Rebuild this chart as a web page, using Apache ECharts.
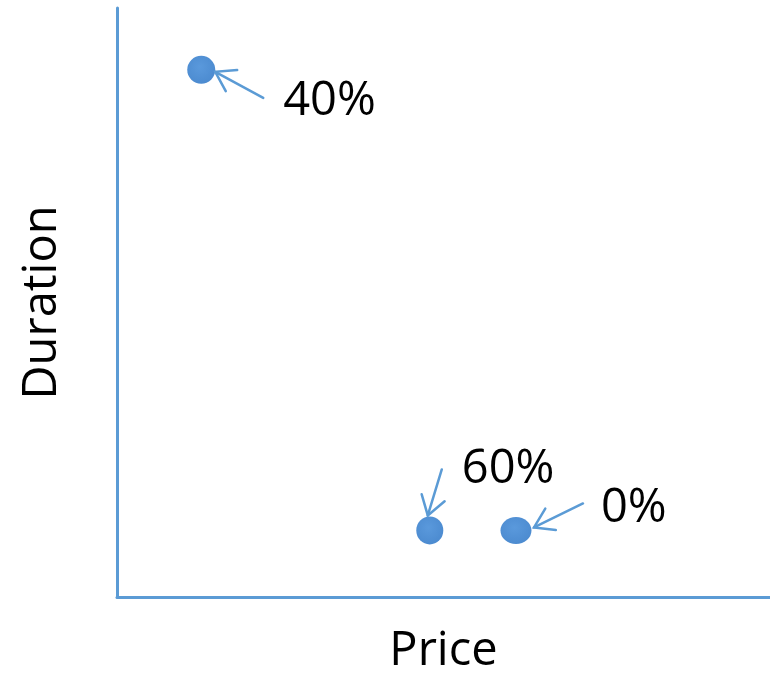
<!DOCTYPE html>
<html>
<head>
<meta charset="utf-8">
<script src="https://cdn.jsdelivr.net/npm/echarts@6/dist/echarts.min.js"></script>
<style>html,body{margin:0;padding:0;background:#fff}#c{width:770px;height:677px}</style>
</head>
<body>
<div id="c"></div>
<script>
// Data (arbitrary units; axes carry no ticks)
const labels = ['40%', '60%', '0%'];
const priceValues = [12.9, 47.9, 61.1];
const durationValues = [89.5, 11.3, 11.3];
const axisNames = { x: 'Price', y: 'Duration' };

// Styles (pixel offsets of annotation relative to each point)
const markerSizes = [[28, 28], [27, 28], [31, 27]];
const arrowStyle = [
  { tail: [62, 28], tip: [14, 2], text: [82, 32] },
  { tail: [12, -61], tip: [-2, -15], text: [32, -61] },
  { tail: [67, -27], tip: [18, -3], text: [85, -22] }
];
const blue = '#5B9BD5';
const font = '"Open Sans", sans-serif';

const points = priceValues.map((x, i) => [x, durationValues[i], i]);

const chart = echarts.init(document.getElementById('c'), null, { renderer: 'canvas' });
chart.setOption({
  animation: false,
  grid: { left: 117, top: 8, right: 0, bottom: 80, containLabel: false, outerBoundsMode: 'none' },
  xAxis: {
    type: 'value', min: 0, max: 100,
    name: axisNames.x, nameLocation: 'middle', nameGap: 31,
    nameTextStyle: { fontFamily: font, fontSize: 47, color: '#000' },
    axisLine: { show: true, onZero: false, lineStyle: { color: blue, width: 3 } },
    axisTick: { show: false }, axisLabel: { show: false }, splitLine: { show: false }
  },
  yAxis: {
    type: 'value', min: 0, max: 100,
    name: axisNames.y, nameLocation: 'middle', nameGap: 51, nameRotate: 90,
    nameTextStyle: { fontFamily: font, fontSize: 47, color: '#000' },
    axisLine: { show: true, onZero: false, lineStyle: { color: blue, width: 3 } },
    axisTick: { show: false }, axisLabel: { show: false }, splitLine: { show: false }
  },
  series: [
    {
      type: 'scatter',
      data: points,
      symbol: 'circle',
      symbolSize: (v, p) => markerSizes[p.dataIndex],
      itemStyle: {
        opacity: 1,
        color: {
          type: 'radial', x: 0.45, y: 0.4, r: 0.6,
          colorStops: [{ offset: 0, color: '#5a99dc' }, { offset: 1, color: '#4c8bd0' }]
        }
      },
      z: 2
    },
    {
      type: 'custom',
      data: points,
      renderItem: function (params, api) {
        const i = api.value(2);
        const c = api.coord([api.value(0), api.value(1)]);
        const s = arrowStyle[i];
        const tail = [c[0] + s.tail[0], c[1] + s.tail[1]];
        const tip = [c[0] + s.tip[0], c[1] + s.tip[1]];
        const ang = Math.atan2(tail[1] - tip[1], tail[0] - tip[0]);
        const L = 22, a = 33 * Math.PI / 180;
        const b1 = [tip[0] + L * Math.cos(ang + a), tip[1] + L * Math.sin(ang + a)];
        const b2 = [tip[0] + L * Math.cos(ang - a), tip[1] + L * Math.sin(ang - a)];
        const ls = { stroke: blue, lineWidth: 2.5, lineCap: 'round', fill: null };
        return {
          type: 'group',
          children: [
            { type: 'polyline', shape: { points: [tail, tip] }, style: ls },
            { type: 'polyline', shape: { points: [b1, tip, b2] }, style: ls },
            {
              type: 'text',
              style: {
                text: labels[i], x: c[0] + s.text[0], y: c[1] + s.text[1],
                fill: '#000', font: '47px ' + font, align: 'left', verticalAlign: 'middle'
              }
            }
          ]
        };
      },
      z: 3
    }
  ]
});
</script>
</body>
</html>
